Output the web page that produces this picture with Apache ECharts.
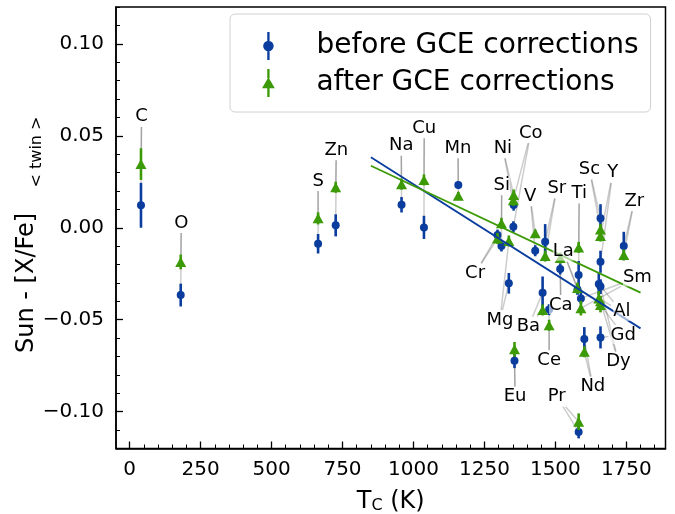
<!DOCTYPE html>
<html>
<head>
<meta charset="utf-8">
<script src="https://cdn.jsdelivr.net/npm/echarts@6/dist/echarts.min.js"></script>
<style>
  html, body { margin: 0; padding: 0; background: #fff; }
  #chart { width: 675px; height: 514px; }
</style>
</head>
<body>
<div id="chart"></div>
<script>
// element labels and condensation temperatures (K)
const elements = ['C','O','S','Zn','Na','Cu','Mn','Cr','Si','Mg','Eu','Ni','Co','V','Ba','Sr','Ce','Ca','La','Ti','Pr','Sm','Nd','Al','Sc','Y','Gd','Dy','Zr'];
const tc = [40,180,664,726,958,1037,1158,1296,1310,1336,1356,1353,1352,1429,1455,1464,1478,1517,1578,1582,1582,1590,1602,1653,1659,1659,1659,1659,1741];

// Sun - [X/Fe]<twin>, before and after GCE corrections
const before    = [0.0122,-0.0366,-0.0087,0.0013,0.0125,0.0002,0.0232,-0.0040,-0.0099,-0.0302,-0.0723,0.0123,0.0005,-0.0125,-0.0353,-0.0076,-0.0445,-0.0224,-0.0335,-0.0257,-0.1110,-0.0384,-0.0605,-0.0306,0.0051,-0.0185,-0.0596,-0.0320,-0.0099];
const beforeErr = [0.0122,0.0062,0.0053,0.0060,0.0042,0.0063,0.0020,0.0030,0.0030,0.0056,0.0040,0.0030,0.0030,0.0030,0.0088,0.0096,0.0030,0.0030,0.0030,0.0076,0.0035,0.0030,0.0065,0.0060,0.0077,0.0060,0.0060,0.0040,0.0077];
const after     = [0.0346,-0.0186,0.0051,0.0220,0.0237,0.0260,0.0174,-0.0058,0.0024,-0.0072,-0.0661,0.0178,0.0150,-0.0030,-0.0447,-0.0154,-0.0530,-0.0165,-0.0328,-0.0107,-0.1054,-0.0437,-0.0674,-0.0384,-0.0009,-0.0045,-0.0420,-0.0400,-0.0148];
const afterErr  = [0.0086,0.0040,0.0033,0.0030,0.0030,0.0030,0.0020,0.0030,0.0030,0.0030,0.0040,0.0030,0.0030,0.0020,0.0030,0.0030,0.0030,0.0030,0.0030,0.0030,0.0045,0.0040,0.0030,0.0040,0.0030,0.0030,0.0040,0.0030,0.0030];

// where each element name sits (data coords)
const labelTc  = [42,182,664,728,957,1038,1157,1217,1311,1305,1358,1315,1413,1411,1405,1505,1478,1519,1528,1584,1505,1789,1632,1734,1620,1702,1739,1722,1778];
const labelVal = [0.0603,0.0026,0.0254,0.0422,0.0446,0.0542,0.0433,-0.0248,0.0232,-0.0502,-0.0918,0.0432,0.0515,0.0172,-0.0538,0.0214,-0.0719,-0.0420,-0.0130,0.0187,-0.0918,-0.0270,-0.0864,-0.0457,0.0317,0.0299,-0.0583,-0.0728,0.0145];

// linear fits
const fitBefore = [[850, 0.0383], [1800, -0.0547]];
const fitAfter  = [[850, 0.0337], [1800, -0.0353]];

const xMajor = [0, 250, 500, 750, 1000, 1250, 1500, 1750];
const yMajor = [-0.1, -0.05, 0, 0.05, 0.1];
const xMinor = [];
for (let t = 0; t <= 1850; t += 50) xMinor.push(t);
const yMinor = [];
for (let k = -12; k <= 12; k++) yMinor.push(k / 100);

const BLUE = '#0a3d9e';
const GREEN = '#3c9a06';
const FONT = 'DejaVu Sans';
const LABEL_SIZE = 18;

const ctx = document.createElement('canvas').getContext('2d');
ctx.font = LABEL_SIZE + 'px "' + FONT + '"';

const pts = elements.map((el, i) => [tc[i], before[i], beforeErr[i], after[i], afterErr[i], labelTc[i], labelVal[i], i]);

function errBar(color) {
  return function (params, api) {
    const x = api.value(0);
    const lo = api.coord([x, api.value(1) - api.value(2)]);
    const hi = api.coord([x, api.value(1) + api.value(2)]);
    return {
      type: 'line',
      shape: { x1: lo[0], y1: lo[1], x2: hi[0], y2: hi[1] },
      style: { stroke: color, lineWidth: 2.6 }
    };
  };
}

function leader(params, api) {
  const i = api.value(7);
  const c = api.coord([api.value(5), api.value(6)]);
  const hw = ctx.measureText(elements[i]).width / 2 + 2;
  const hh = LABEL_SIZE * 0.45 + 2;
  const kids = [];
  [[api.value(0), api.value(1)], [api.value(0), api.value(3)]].forEach(function (d) {
    const p = api.coord(d);
    const dx = p[0] - c[0], dy = p[1] - c[1];
    const t = Math.min(dx ? hw / Math.abs(dx) : 1e9, dy ? hh / Math.abs(dy) : 1e9);
    if (t >= 1) return;
    kids.push({
      type: 'line',
      shape: { x1: c[0] + dx * t, y1: c[1] + dy * t, x2: p[0], y2: p[1] },
      style: { stroke: 'rgba(0,0,0,0.2)', lineWidth: 1.5 }
    });
  });
  return { type: 'group', children: kids };
}

function nameLabel(params, api) {
  const i = api.value(7);
  const c = api.coord([api.value(5), api.value(6)]);
  return {
    type: 'text',
    x: c[0], y: c[1],
    style: {
      text: elements[i], fill: '#000', font: LABEL_SIZE + 'px "' + FONT + '"',
      align: 'center', verticalAlign: 'middle',
      backgroundColor: 'rgba(255,255,255,0.6)'
    }
  };
}

const chart = echarts.init(document.getElementById('chart'), null, { renderer: 'canvas' });

const option = {
  animation: false,
  backgroundColor: '#fff',
  textStyle: { fontFamily: FONT },
  grid: {
    left: 116, right: 9.5, top: 7, bottom: 65.5, outerBoundsMode: 'none', containLabel: false,
    show: true, borderColor: '#000', borderWidth: 1.5, backgroundColor: 'transparent'
  },
  legend: {
    orient: 'vertical',
    left: 230, top: 14,
    padding: [16, 12, 13, 32],
    itemGap: 5,
    itemWidth: 20, itemHeight: 28,
    borderColor: '#d0d0d0', borderWidth: 1, borderRadius: 5,
    backgroundColor: 'rgba(255,255,255,0.8)',
    textStyle: { fontSize: 28, lineHeight: 32, fontFamily: FONT, color: '#000', padding: [0, 0, 0, 33] },
    data: [
      { name: 'before GCE corrections', icon: 'path://M9,0h2v8h-2z M9,16h2v8h-2z M10,7.5a4.5,4.5 0 1,1 0,9a4.5,4.5 0 1,1 0,-9z' },
      { name: 'after GCE corrections', icon: 'path://M9,0h2v8h-2z M9,16h2v8h-2z M10,7 L15.5,16.5 L4.5,16.5 Z' }
    ]
  },
  xAxis: [{
    type: 'value', min: -48, max: 1888, position: 'bottom',
    axisLine: { show: true, onZero: false, lineStyle: { color: '#000', width: 1.5 } },
    axisTick: { show: true, inside: true, length: 7, customValues: xMajor, lineStyle: { color: '#000', width: 1.3 } },
    axisLabel: { show: true, customValues: xMajor, fontSize: 20, color: '#000', margin: 11, fontFamily: FONT, formatter: v => String(v) },
    splitLine: { show: false },
    name: '{a|T}{s|C}{a| (K)}',
    nameLocation: 'middle', nameGap: 35,
    nameTextStyle: {
      rich: {
        a: { fontSize: 24, fontFamily: FONT, color: '#000', verticalAlign: 'bottom', lineHeight: 30 },
        s: { fontSize: 16, fontFamily: FONT, color: '#000', verticalAlign: 'bottom', lineHeight: 18 }
      }
    }
  }, {
    type: 'value', min: -48, max: 1888, position: 'bottom',
    axisLine: { show: false, onZero: false },
    axisTick: { show: true, inside: true, length: 4, customValues: xMinor, lineStyle: { color: '#000', width: 1 } },
    axisLabel: { show: false }, splitLine: { show: false }
  }],
  yAxis: [{
    type: 'value', min: -0.12, max: 0.12, position: 'left',
    axisLine: { show: true, onZero: false, lineStyle: { color: '#000', width: 1.5 } },
    axisTick: { show: true, inside: true, length: 7, customValues: yMajor, lineStyle: { color: '#000', width: 1.3 } },
    axisLabel: {
      show: true, customValues: yMajor, fontSize: 20, color: '#000', margin: 12, fontFamily: FONT,
      formatter: v => v.toFixed(2).replace('-', '\u2212')
    },
    splitLine: { show: false },
    name: '{a|Sun - [X/Fe]}{b|\u00a0\u00a0\u00a0\u00a0\u00a0< twin >}',
    nameLocation: 'middle', nameGap: 71, nameRotate: 90, nameMoveOverlap: false,
    nameTextStyle: {
      padding: [0, 14, 0, 0],
      rich: {
        a: { fontSize: 24, fontFamily: FONT, color: '#000', verticalAlign: 'top', lineHeight: 30 },
        b: { fontSize: 16, fontFamily: FONT, color: '#000', verticalAlign: 'bottom', lineHeight: 14 }
      }
    }
  }, {
    type: 'value', min: -0.12, max: 0.12, position: 'left',
    axisLine: { show: false, onZero: false },
    axisTick: { show: true, inside: true, length: 4, customValues: yMinor, lineStyle: { color: '#000', width: 1 } },
    axisLabel: { show: false }, splitLine: { show: false }
  }],
  series: [
    { type: 'custom', name: 'leaders', renderItem: leader, data: pts, z: 1, silent: true },
    { type: 'custom', name: 'before GCE corrections', renderItem: errBar(BLUE), data: pts.map(p => [p[0], p[1], p[2]]), z: 2, itemStyle: { color: BLUE } },
    { type: 'scatter', name: 'before GCE corrections', data: pts.map(p => [p[0], p[1]]), symbol: 'circle', symbolSize: 8, itemStyle: { color: BLUE, opacity: 1 }, z: 2 },
    { type: 'custom', name: 'after GCE corrections', renderItem: errBar(GREEN), data: pts.map(p => [p[0], p[3], p[4]]), z: 3, itemStyle: { color: GREEN } },
    { type: 'scatter', name: 'after GCE corrections', data: pts.map(p => [p[0], p[3]]), symbol: 'triangle', symbolSize: [11, 10], itemStyle: { color: GREEN, opacity: 1 }, z: 3 },
    { type: 'line', name: 'fit before', data: fitBefore, showSymbol: false, lineStyle: { color: BLUE, width: 1.8 }, z: 4 },
    { type: 'line', name: 'fit after', data: fitAfter, showSymbol: false, lineStyle: { color: GREEN, width: 1.8 }, z: 4 },
    { type: 'custom', name: 'names', renderItem: nameLabel, data: pts, z: 10, silent: true }
  ]
};

chart.setOption(option);
</script>
</body>
</html>
